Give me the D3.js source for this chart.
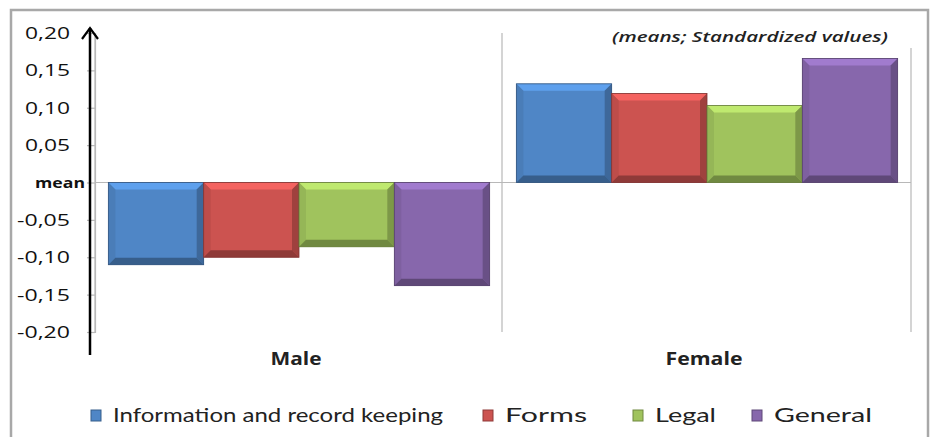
<!DOCTYPE html>
<html><head><meta charset="utf-8">
<script src="https://cdn.jsdelivr.net/npm/d3@7"></script>
<style>body{margin:0;background:#fff}svg{display:block}</style>
</head><body>
<svg id="c" width="930" height="437"></svg>
<script>
const categories = ["Male", "Female"];
const seriesNames = ["Information and record keeping", "Forms", "Legal", "General"];
const infoValues = [-0.110, 0.132];
const formsValues = [-0.100, 0.119];
const legalValues = [-0.086, 0.103];
const generalValues = [-0.138, 0.166];
const tickValues = [0.20, 0.15, 0.10, 0.05, 0, -0.05, -0.10, -0.15, -0.20];
const tickLabels = ["0,20", "0,15", "0,10", "0,05", "mean", "-0,05", "-0,10", "-0,15", "-0,20"];
const colors = ["#4f86c6", "#cc5350", "#a0c35d", "#8767ac"];
const titleText = "(means; Standardized values)";

const seriesValues = [infoValues, formsValues, legalValues, generalValues];
const svg = d3.select("#c");

// outer frame
svg.append("rect").attr("x", 11).attr("y", 10).attr("width", 917).attr("height", 440)
  .attr("fill", "none").attr("stroke", "#a8a8a8").attr("stroke-width", 2.5);

const y = d3.scaleLinear().domain([-0.2, 0.2]).range([332, 33]);
const x0 = d3.scaleBand().domain(categories).range([95, 911]).padding(0);
const x1 = d3.scaleBand().domain(seriesNames).range([0, x0.bandwidth()]).paddingInner(0).paddingOuter(0.14);

// vertical category separators
const sepX = [95, 502, 911];
svg.selectAll("line.sep").data(sepX).enter().append("line")
  .attr("x1", d => d).attr("x2", d => d)
  .attr("y1", (d, i) => i === 2 ? 48 : 33).attr("y2", 332)
  .attr("stroke", "#b8b8b8").attr("stroke-width", 1.2);

// zero line
svg.append("line").attr("x1", 95).attr("x2", 911).attr("y1", y(0)).attr("y2", y(0))
  .attr("stroke", "#b8b8b8").attr("stroke-width", 1.2);

// y axis
const yAxis = d3.axisLeft(y).tickValues(tickValues).tickSize(8).tickPadding(18)
  .tickFormat((d, i) => tickLabels[i]);
const ax = svg.append("g").attr("transform", "translate(95,0)").call(yAxis);
ax.select(".domain").attr("stroke", "#b8b8b8").attr("stroke-width", 1.2);
ax.selectAll(".tick line").attr("stroke", "#b8b8b8").attr("stroke-width", 1.2);
ax.selectAll(".tick text")
  .attr("font-family", "'Open Sans', sans-serif")
  .attr("font-size", (d, i) => tickLabels[i] === "mean" ? 15 : 17)
  .attr("font-weight", (d, i) => tickLabels[i] === "mean" ? "bold" : "normal")
  .attr("fill", "#111")
  .attr("x", (d, i) => tickLabels[i] === "mean" ? -10 : -25)
  .attr("textLength", (d, i) => tickLabels[i] === "mean" ? 50 : (tickLabels[i].startsWith("-") ? 53 : 45))
  .attr("lengthAdjust", "spacingAndGlyphs");

// black arrow axis
svg.append("line").attr("x1", 90).attr("x2", 90).attr("y1", 355).attr("y2", 28)
  .attr("stroke", "#000").attr("stroke-width", 2.5);
svg.append("path").attr("d", "M82,39 L90,28 L98,39").attr("fill", "none")
  .attr("stroke", "#000").attr("stroke-width", 2.2);

// bars with bevel
function shade(c, k) { return k > 0 ? d3.color(c).brighter(k).formatHex() : d3.color(c).darker(-k).formatHex(); }
const bars = [];
seriesNames.forEach((s, si) => {
  categories.forEach((c, ci) => {
    bars.push({ s, si, c, v: seriesValues[si][ci] });
  });
});
const g = svg.append("g");
bars.forEach(b => {
  const bx = x0(b.c) + x1(b.s), bw = x1.bandwidth();
  const top = y(Math.max(0, b.v)), bot = y(Math.min(0, b.v));
  const h = bot - top, e = 7, col = colors[b.si];
  const gg = g.append("g");
  gg.append("rect").attr("x", bx).attr("y", top).attr("width", bw).attr("height", h).attr("fill", col);
  const poly = (pts, f) => gg.append("polygon").attr("points", pts.map(p => p.join(",")).join(" ")).attr("fill", f);
  poly([[bx, top], [bx + bw, top], [bx + bw - e, top + e], [bx + e, top + e]], shade(col, 0.5));
  poly([[bx, top], [bx + e, top + e], [bx + e, bot - e], [bx, bot]], shade(col, -0.2));
  poly([[bx + bw, top], [bx + bw, bot], [bx + bw - e, bot - e], [bx + bw - e, top + e]], shade(col, -0.7));
  poly([[bx, bot], [bx + bw, bot], [bx + bw - e, bot - e], [bx + e, bot - e]], shade(col, -1.0));
  gg.append("rect").attr("x", bx).attr("y", top).attr("width", bw).attr("height", h)
    .attr("fill", "none").attr("stroke", shade(col, -1.3)).attr("stroke-width", 0.8);
});

// category labels
const catW = [51, 77];
svg.selectAll("text.cat").data(categories).enter().append("text")
  .attr("x", d => x0(d) + x0.bandwidth() / 2 - 3).attr("y", 365)
  .attr("text-anchor", "middle").attr("font-family", "'Open Sans', sans-serif")
  .attr("font-weight", "bold").attr("font-size", 18).attr("fill", "#222")
  .attr("textLength", (d, i) => catW[i]).attr("lengthAdjust", "spacingAndGlyphs")
  .text(d => d);

// subtitle
svg.append("text").attr("x", 888).attr("y", 42).attr("text-anchor", "end")
  .attr("font-family", "'Open Sans', sans-serif").attr("font-style", "italic")
  .attr("font-weight", 600).attr("font-size", 15).attr("fill", "#222")
  .attr("textLength", 276).attr("lengthAdjust", "spacingAndGlyphs")
  .text(titleText);

// legend
const legendX = [91, 483, 633, 752];
const legendW = [330, 82, 61, 98];
const lg = svg.append("g");
seriesNames.forEach((s, i) => {
  const c = colors[i];
  lg.append("rect").attr("x", legendX[i]).attr("y", 410).attr("width", 10).attr("height", 11)
    .attr("fill", c).attr("stroke", shade(c, -1)).attr("stroke-width", 1);
  lg.append("text").attr("x", legendX[i] + 22).attr("y", 422)
    .attr("font-family", "Lato, sans-serif").attr("font-size", 20).attr("fill", "#222")
    .attr("textLength", legendW[i]).attr("lengthAdjust", "spacingAndGlyphs")
    .text(s);
});
</script>
</body></html>
